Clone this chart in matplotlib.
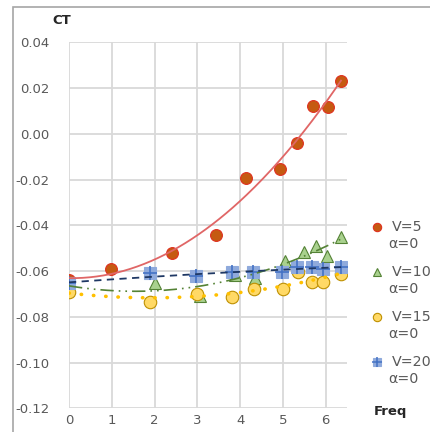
import numpy as np
import matplotlib
matplotlib.use("Agg")
import matplotlib.pyplot as plt
from matplotlib.lines import Line2D
from matplotlib.patches import Rectangle

# ---- data ----
x_v5 = [0.0, 0.98, 2.41, 3.43, 4.14, 4.94, 5.32, 5.70, 6.05, 6.36]
y_v5 = [-0.0639, -0.0591, -0.0520, -0.0441, -0.0192, -0.0154, -0.0040, 0.0122, 0.0116, 0.0230]

x_v10 = [0.0, 2.0, 3.06, 3.88, 4.35, 5.06, 5.49, 5.77, 6.04, 6.37]
y_v10 = [-0.0670, -0.0654, -0.0709, -0.0617, -0.0632, -0.0555, -0.0515, -0.0490, -0.0534, -0.0450]

x_v15 = [0.0, 1.89, 3.0, 3.8, 4.32, 5.0, 5.36, 5.69, 5.94, 6.37]
y_v15 = [-0.0690, -0.0734, -0.0700, -0.0712, -0.0678, -0.0678, -0.0603, -0.0649, -0.0649, -0.0613]

x_v20 = [0.0, 1.89, 2.98, 3.8, 4.3, 4.99, 5.33, 5.69, 5.94, 6.37]
y_v20 = [-0.0654, -0.0610, -0.0622, -0.0605, -0.0605, -0.0605, -0.0581, -0.0581, -0.0592, -0.0581]

names = ["V=5", "V=10", "V=15", "V=20"]
sub_label = "α=0"
xticks = [0, 1, 2, 3, 4, 5, 6]
yticks = [-0.12, -0.10, -0.08, -0.06, -0.04, -0.02, 0.00, 0.02, 0.04]

W, H = 431, 432
fig = plt.figure(figsize=(W / 100, H / 100), dpi=100)
plt.rcParams['font.family'] = ['DejaVu Sans']
fig.patches.append(Rectangle((13 / W, -0.1), 1.2, (H - 7) / H + 0.1, transform=fig.transFigure,
                             fill=False, edgecolor='#a6a6a6', linewidth=1.2))

ax = fig.add_axes([69 / W, (H - 408.3) / H, (347 - 69) / W, (408.3 - 42.3) / H])
ax.set_xlim(0, 6.5)
ax.set_ylim(-0.12, 0.04)
ax.set_xticks(xticks)
ax.set_yticks(yticks)
ax.set_yticklabels([f"{v:.2f}" for v in yticks])
ax.grid(True, color='#d9d9d9', linewidth=1.3)
ax.set_axisbelow(True)
for s in ax.spines.values():
    s.set_visible(False)
ax.tick_params(length=0, labelsize=9.5, labelcolor='#595959')
ax.tick_params(axis='y', pad=14)
ax.tick_params(axis='x', pad=4)

marker_styles = [
    dict(marker='o', mfc='#C55A11', mec='#E03020', mew=0.8),
    dict(marker='^', mfc='#A9D18E', mec='#548235', mew=0.8),
    dict(marker='o', mfc='#FFD966', mec='#BF9000', mew=0.8),
    dict(marker='s', mfc='#8FAADC', mec='#8FAADC', mew=0.8),
]
sizes = [8.5, 8.5, 9, 8.5]
trend_styles = [
    dict(color='#E06666', lw=1.3, ls='-'),
    dict(color='#548235', lw=1.2, ls=(0, (8, 3, 1, 3, 1, 3))),
    dict(color='#FFC000', lw=2.6, ls=(0, (0.1, 3.3)), dash_capstyle='round'),
    dict(color='#1F3864', lw=1.3, ls=(0, (4, 3))),
]
data = [(x_v5, y_v5), (x_v10, y_v10), (x_v15, y_v15), (x_v20, y_v20)]

for i, (xs, ys) in enumerate(data):
    xs = np.asarray(xs); ys = np.asarray(ys)
    ax.plot(xs, ys, ls='none', ms=sizes[i], zorder=3 + i, **marker_styles[i])
    if i == 3:
        ax.plot(xs, ys, ls='none', marker='+', ms=9.5, mec='#4472C4', mew=1.2, zorder=3 + i)
    c = np.polyfit(xs, ys, 2)
    xx = np.linspace(xs.min(), xs.max(), 200)
    ax.plot(xx, np.polyval(c, xx), zorder=10 + i, **trend_styles[i])

# manual legend
for i, name in enumerate(names):
    yr = 227.3 + 44.8 * i
    fy = 1 - yr / H
    fig.add_artist(Line2D([377 / W], [fy], transform=fig.transFigure, ls='none', ms=6,
                          **marker_styles[i]))
    if i == 3:
        fig.add_artist(Line2D([377 / W], [fy], transform=fig.transFigure, ls='none',
                              marker='+', ms=7.5, mec='#4472C4', mew=1.1))
    fig.text(392 / W, fy, name, ha='left', va='center', fontsize=10.3, color='#595959')
    fig.text(388 / W, 1 - (yr + 17) / H, sub_label, ha='left', va='center', fontsize=10.3,
             color='#595959')

fig.text(62 / W, 1 - 20 / H, "CT", ha='center', va='center', fontsize=9.5, fontweight='bold', color='#262626')
fig.text(390 / W, 1 - 412 / H, "Freq", ha='center', va='center', fontsize=9.5, fontweight='bold', color='#262626')

fig.savefig("out.png", dpi=100)
